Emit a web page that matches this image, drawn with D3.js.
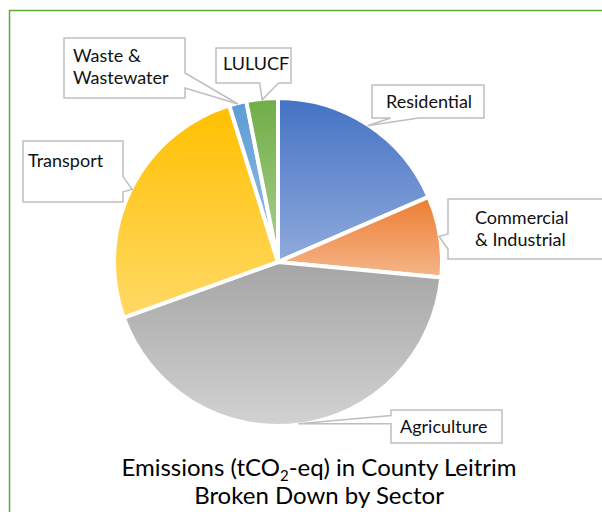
<!DOCTYPE html>
<html>
<head>
<meta charset="utf-8">
<script src="https://cdn.jsdelivr.net/npm/d3@7"></script>
<style>
  body { margin: 0; background: #fff; }
  svg { display: block; font-family: Lato, "Open Sans", sans-serif; }
</style>
</head>
<body>
<script>
// sector shares of emissions (%)
const sectors = ['Residential', 'Commercial & Industrial', 'Agriculture', 'Transport', 'Waste & Wastewater', 'LULUCF'];
const shares = [18.5, 8.0, 43.0, 25.7, 1.7, 3.1];
const labelLines = [['Residential'], ['Commercial', '& Industrial'], ['Agriculture'], ['Transport'], ['Waste &', 'Wastewater'], ['LULUCF']];

const topColors = ['#4472c4', '#ed7d31', '#a5a5a5', '#ffc000', '#5b9bd5', '#70ad47'];
const bottomColors = ['#90abdc', '#f5b68a', '#d2d2d2', '#ffd966', '#9dc3e6', '#a9d18e'];

const width = 602;
const height = 512;
const cx = 278, cy = 262, radius = 164;

// callout boxes: x, y, w, h, text x, first baseline
const boxes = {
  'Residential': { x: 372, y: 85, w: 112, h: 33, tx: 386, ty: 108 },
  'Commercial & Industrial': { x: 448, y: 199, w: 165, h: 60, tx: 475, ty: 224 },
  'Agriculture': { x: 391, y: 410, w: 111, h: 33, tx: 400, ty: 433 },
  'Transport': { x: 23, y: 141, w: 100, h: 61, tx: 28, ty: 167 },
  'Waste & Wastewater': { x: 64, y: 38, w: 121, h: 60, tx: 73, ty: 62 },
  'LULUCF': { x: 216, y: 48, w: 75, h: 35, tx: 223, ty: 70 }
};

const svg = d3.select('body')
  .append('svg')
  .attr('width', width)
  .attr('height', height);

svg.append('rect')
  .attr('x', 9.5)
  .attr('y', 10.5)
  .attr('width', width)
  .attr('height', height)
  .attr('fill', 'none')
  .attr('stroke', '#5aab3c')
  .attr('stroke-width', 1.5);

const data = sectors.map((s, i) => ({ sector: s, value: shares[i], lines: labelLines[i], i }));

const pie = d3.pie().sort(null).value(d => d.value);
const arc = d3.arc().innerRadius(0).outerRadius(radius);
const arcs = pie(data);

const defs = svg.append('defs');
arcs.forEach((a, i) => {
  const g = defs.append('linearGradient')
    .attr('id', `grad${ i }`)
    .attr('x1', 0).attr('y1', 0).attr('x2', 0).attr('y2', 1);
  g.append('stop').attr('offset', 0).attr('stop-color', topColors[i]);
  g.append('stop').attr('offset', 1).attr('stop-color', bottomColors[i]);
});

const pieG = svg.append('g')
  .attr('transform', `translate(${ cx },${ cy })`);

pieG.selectAll('path')
  .data(arcs)
  .enter()
  .append('path')
  .attr('d', arc)
  .attr('fill', (d, i) => `url(#grad${ i })`)
  .attr('stroke', '#fff')
  .attr('stroke-width', 4)
  .attr('stroke-linejoin', 'round');

// Excel style wedge callout
function calloutPath(b, tip) {
  const { x, y, w, h } = b;
  const dx = tip[0] - (x + w / 2);
  const dy = tip[1] - (y + h / 2);
  const pts = [];
  if (Math.abs(dx * h) > Math.abs(dy * w)) {
    const f = dy < 0 ? [2, 5] : [7, 10];
    const y1 = y + h * f[0] / 12, y2 = y + h * f[1] / 12;
    if (dx > 0) {
      pts.push([x, y], [x + w, y], [x + w, y1], tip, [x + w, y2], [x + w, y + h], [x, y + h]);
    } else {
      pts.push([x, y], [x + w, y], [x + w, y + h], [x, y + h], [x, y2], tip, [x, y1]);
    }
  } else {
    const f = dx < 0 ? [2, 5] : [7, 10];
    const x1 = x + w * f[0] / 12, x2 = x + w * f[1] / 12;
    if (dy > 0) {
      pts.push([x, y], [x + w, y], [x + w, y + h], [x2, y + h], tip, [x1, y + h], [x, y + h]);
    } else {
      pts.push([x, y], [x1, y], tip, [x2, y], [x + w, y], [x + w, y + h], [x, y + h]);
    }
  }
  return 'M' + pts.map(p => p.join(',')).join('L') + 'Z';
}

const labels = svg.append('g')
  .selectAll('g')
  .data(arcs)
  .enter()
  .append('g');

labels.append('path')
  .attr('d', d => {
    const mid = (d.startAngle + d.endAngle) / 2;
    const tip = [cx + Math.sin(mid) * (radius - 1), cy - Math.cos(mid) * (radius - 1)];
    return calloutPath(boxes[d.data.sector], tip);
  })
  .attr('fill', '#fff')
  .attr('stroke', '#bfbfbf')
  .attr('stroke-width', 1.5);

labels.append('text')
  .attr('font-size', 18)
  .attr('fill', '#111')
  .each(function(d) {
    const b = boxes[d.data.sector];
    d3.select(this).selectAll('tspan')
      .data(d.data.lines)
      .enter()
      .append('tspan')
      .attr('x', b.tx)
      .attr('y', (l, j) => b.ty + j * 22)
      .text(l => l);
  });

const title = svg.append('text')
  .attr('text-anchor', 'middle')
  .attr('font-size', 24)
  .attr('fill', '#000');

const t1 = title.append('tspan').attr('x', 319).attr('y', 476);
t1.append('tspan').text('Emissions (tCO');
t1.append('tspan').attr('font-size', 15).attr('dy', 5).text('2');
t1.append('tspan').attr('dy', -5).text('-eq) in County Leitrim');

title.append('tspan')
  .attr('x', 319)
  .attr('y', 504)
  .text('Broken Down by Sector');
</script>
</body>
</html>
